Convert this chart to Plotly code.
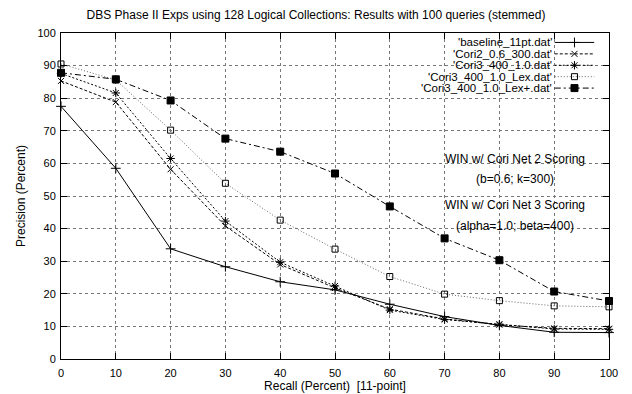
import plotly.graph_objects as go

recall = [0, 10, 20, 30, 40, 50, 60, 70, 80, 90, 100]
baseline = [77.5, 58.5, 33.8, 28.3, 23.7, 21.2, 16.8, 13.0, 10.3, 8.2, 8.1]
cori2 = [85.3, 78.8, 58.2, 40.8, 29.0, 21.8, 15.3, 12.3, 10.5, 9.4, 9.3]
cori3 = [87.6, 81.6, 61.5, 42.3, 29.7, 22.4, 15.0, 12.1, 10.7, 9.2, 9.1]
lex = [90.5, 85.6, 70.2, 53.9, 42.6, 33.7, 25.3, 19.9, 17.9, 16.3, 16.0]
lexplus = [87.8, 85.8, 79.3, 67.6, 63.6, 56.9, 46.8, 37.0, 30.3, 20.7, 17.8]

names = ["'baseline_11pt.dat'", "'Cori2_0.6_300.dat'", "'Cori3_400_1.0.dat'",
         "'Cori3_400_1.0_Lex.dat'", "'Cori3_400_1.0_Lex+.dat'"]
series = [baseline, cori2, cori3, lex, lexplus]
dashes = ["solid", "3px,2px", "2px,2px", "1px,2px", "6px,3px,2px,3px"]
lcolors = ["black", "black", "black", "#666666", "black"]
symbols = ["cross-thin-open", "x-thin-open", "asterisk-open", "square-open", "square"]
msizes = [7, 6, 7, 6, 7]

notes = ["WIN w/ Cori Net 2 Scoring", "(b=0.6; k=300)",
         "WIN w/ Cori Net 3 Scoring", "(alpha=1.0; beta=400)"]
note_y = [61.2, 55.1, 47.2, 40.8]

FONT = "Liberation Sans, Arial, sans-serif"

fig = go.Figure()
for s, d, c, sym, ms in zip(series, dashes, lcolors, symbols, msizes):
    fig.add_trace(go.Scatter(
        x=recall, y=s, mode="lines+markers",
        line=dict(color=c, width=1, dash=d),
        marker=dict(symbol=sym, size=ms, color="black",
                    line=dict(color="black", width=1)),
        showlegend=False, cliponaxis=False))

# custom gnuplot-style legend (text right, sample on the right)
leg_y = [0.971, 0.936, 0.901, 0.866, 0.831]
for i, (d, c, sym, ms) in enumerate(zip(dashes, lcolors, symbols, msizes)):
    fig.add_trace(go.Scatter(
        x=[0.901, 0.973], y=[leg_y[i], leg_y[i]], mode="lines",
        line=dict(color=c, width=1, dash=d), xaxis="x2", yaxis="y2",
        showlegend=False, hoverinfo="skip"))
    fig.add_trace(go.Scatter(
        x=[0.937], y=[leg_y[i]], mode="markers",
        marker=dict(symbol=sym, size=ms, color="black",
                    line=dict(color="black", width=1)),
        xaxis="x2", yaxis="y2", showlegend=False, hoverinfo="skip"))
    fig.add_annotation(x=0.898, y=leg_y[i], xref="x2", yref="y2",
                       text=names[i], showarrow=False, xanchor="right",
                       yanchor="middle", borderpad=0,
                       font=dict(size=11.5, color="black", family=FONT))

for t, yy in zip(notes, note_y):
    fig.add_annotation(x=82.8, y=yy, text=t, showarrow=False, borderpad=0,
                       font=dict(size=12, color="black", family=FONT))

fig.add_shape(type="rect", xref="paper", yref="paper",
              x0=0.578, x1=1.0, y0=0.815, y1=1.0,
              fillcolor="white", line=dict(width=0), layer="between")

axis_common = dict(
    showline=True, linecolor="black", linewidth=1, mirror="ticks",
    ticks="inside", ticklen=6, tickcolor="black", automargin=False,
    showgrid=True, gridcolor="#777777", griddash="dot", gridwidth=1,
    zeroline=False, tickfont=dict(size=11, color="black", family=FONT),
)

fig.update_layout(
    width=632, height=394,
    margin=dict(l=61, r=23, t=33, b=35),
    paper_bgcolor="white", plot_bgcolor="white",
    title=dict(text="DBS Phase II Exps using 128 Logical Collections: Results with 100 queries (stemmed)",
               x=0.5, xanchor="center", y=0.962, yanchor="middle",
               font=dict(size=12, color="black", family=FONT)),
    xaxis=dict(range=[0, 100], tickvals=recall, ticktext=[str(v) for v in recall],
               ticklabelstandoff=4,
               title=dict(text="Recall (Percent)  [11-point]", standoff=3,
                          font=dict(size=12, color="black", family=FONT)),
               **axis_common),
    yaxis=dict(range=[0, 100], tickvals=list(range(0, 101, 10)),
               ticklabelstandoff=2,
               title=dict(text="Precision (Percent)", standoff=9,
                          font=dict(size=12, color="black", family=FONT)),
               **axis_common),
    xaxis2=dict(range=[0, 1], overlaying="x", visible=False, fixedrange=True),
    yaxis2=dict(range=[0, 1], overlaying="y", visible=False, fixedrange=True),
)

fig.write_html("out.html")
